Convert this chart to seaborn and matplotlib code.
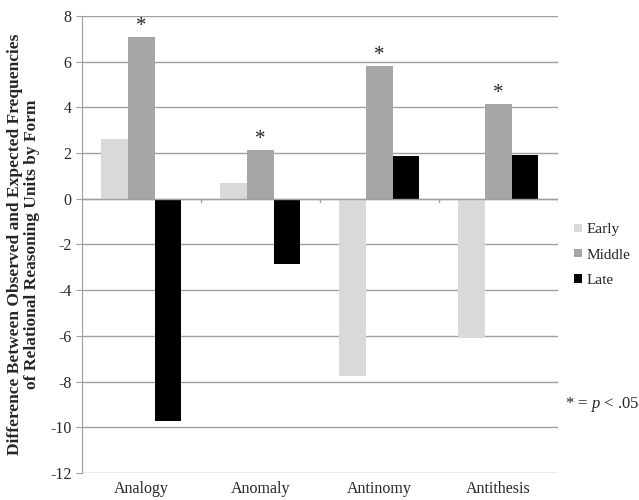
import pandas as pd
import matplotlib.pyplot as plt
import seaborn as sns

forms = ["Analogy", "Anomaly", "Antinomy", "Antithesis"]
stages = ["Early", "Middle", "Late"]
early = [2.63, 0.70, -7.75, -6.11]
middle = [7.08, 2.14, 5.82, 4.14]
late = [-9.72, -2.86, 1.87, 1.90]
significant = [True, True, True, True]  # middle bars marked with *

df = pd.DataFrame({
    "form": forms * 3,
    "stage": [s for s in stages for _ in forms],
    "value": early + middle + late,
})

sns.set_style("white")
plt.rcParams["font.family"] = ["Liberation Serif", "DejaVu Serif"]
plt.rcParams["axes.unicode_minus"] = False
plt.rcParams["mathtext.fontset"] = "custom"
plt.rcParams["mathtext.it"] = "Liberation Serif:italic"
plt.rcParams["mathtext.rm"] = "Liberation Serif"

palette = {"Early": "#d9d9d9", "Middle": "#a6a6a6", "Late": "#000000"}

fig = plt.figure(figsize=(6.39, 5.0), dpi=100)
ax = fig.add_axes([0.128, 0.054, 0.745, 0.914])

sns.barplot(data=df, x="form", y="value", hue="stage", hue_order=stages,
            palette=palette, width=0.67, saturation=1, linewidth=0,
            edgecolor="none", ax=ax, zorder=3)

ax.set_ylim(-12, 8)
ax.set_yticks(range(-12, 9, 2))
ax.set_xlim(-0.5, 3.5)
ax.yaxis.grid(True, color="#a0a0a0", linewidth=1, zorder=0)
ax.set_axisbelow(True)
for side in ["top", "right", "bottom"]:
    ax.spines[side].set_visible(False)
ax.spines["left"].set_color("#a0a0a0")

# zero line with tick marks between categories
ax.axhline(0, color="#a0a0a0", linewidth=1, zorder=4)
for b in [0.5, 1.5, 2.5, 3.5]:
    ax.plot([b, b], [0, -0.15], color="#a0a0a0", linewidth=1, zorder=4)

ax.tick_params(axis="x", length=0, labelsize=11.5, pad=6)
ax.tick_params(axis="y", length=4, color="#a0a0a0", labelsize=11.5, left=True)
ax.set_xlabel("")
ax.set_ylabel("Difference Between Observed and Expected Frequencies\nof Relational Reasoning Units by Form",
              fontsize=12.5, fontweight="bold", labelpad=7, linespacing=1.1)

# significance asterisks above middle bars
for i, (m, sig) in enumerate(zip(middle, significant)):
    if sig:
        ax.text(i, m + 0.45, "*", ha="center", va="center", fontsize=15)

leg = ax.legend(loc="center left", bbox_to_anchor=(1.005, 0.477), frameon=False,
                fontsize=11, handlelength=0.5, handleheight=0.5,
                handletextpad=0.35, labelspacing=0.8)

fig.text(0.884, 0.19, "* = $\\it{p}$ < .05", fontsize=12, ha="left", va="center")

fig.savefig("out.png", dpi=100)
